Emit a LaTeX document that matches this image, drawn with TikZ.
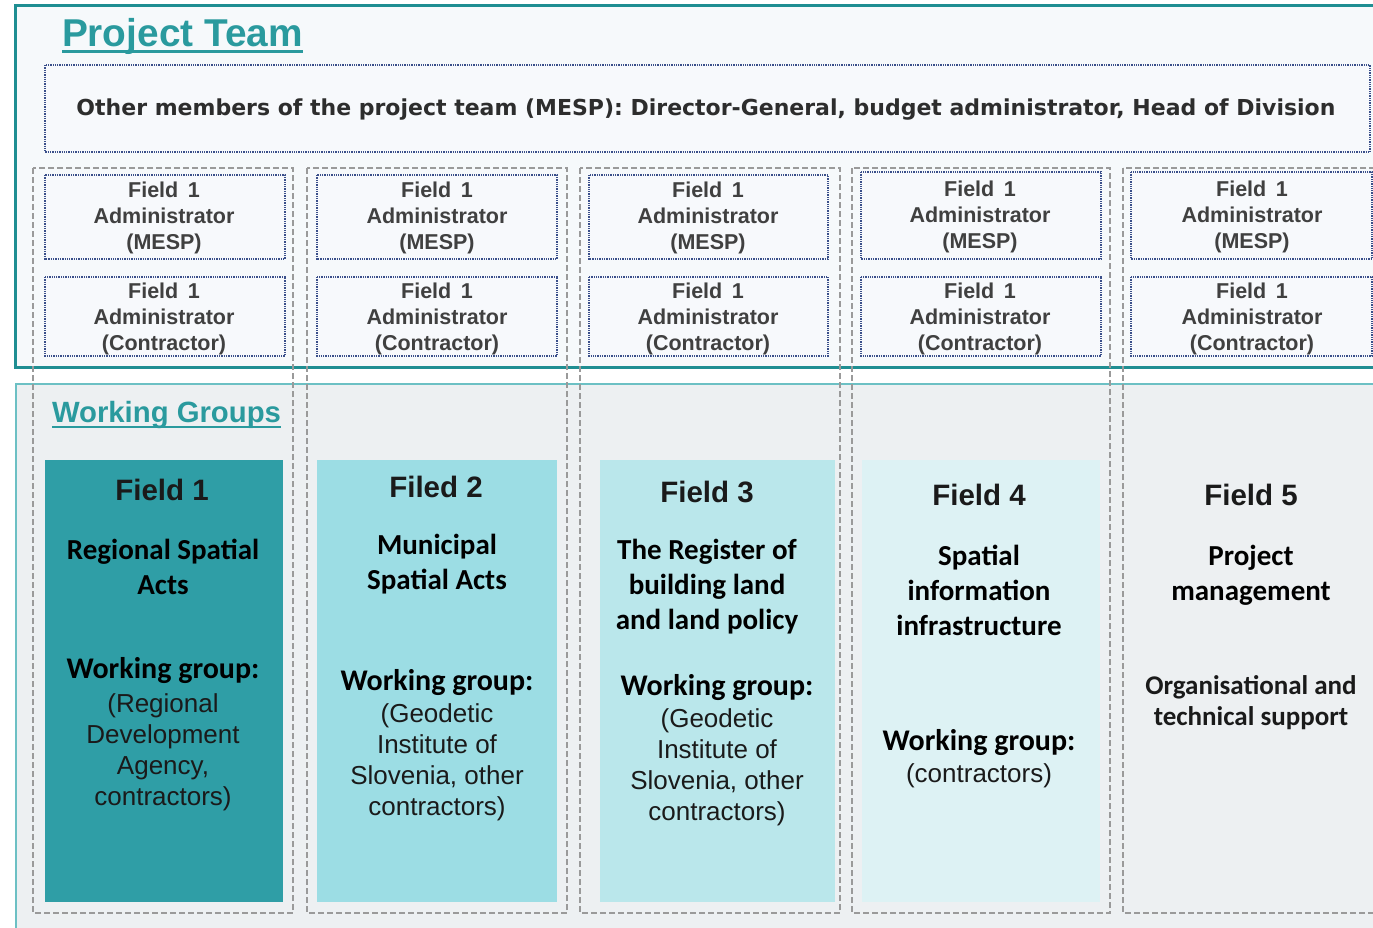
\documentclass[tikz,border=0pt]{standalone}
\usepackage{fontspec}
\setmainfont{Liberation Sans}
\newfontfamily\calfont{Carlito}
\newfontfamily\memfont{DejaVu Sans}
\definecolor{teal1}{HTML}{1F8E92}
\definecolor{teal2}{HTML}{6CC0C4}
\definecolor{titleteal}{HTML}{2A9A9E}
\definecolor{ptfill}{HTML}{F6F9FB}
\definecolor{wgfill}{HTML}{EDF0F2}
\definecolor{adminblue}{HTML}{3A4F8A}
\definecolor{adminfill}{HTML}{F7F9FC}
\definecolor{colgray}{HTML}{9A9A9A}
\definecolor{admintxt}{HTML}{404040}
\definecolor{txt}{HTML}{1A1A1A}
\definecolor{fone}{HTML}{2F9EA6}
\definecolor{ftwo}{HTML}{9CDDE4}
\definecolor{fthree}{HTML}{BAE7EB}
\definecolor{ffour}{HTML}{DDF2F4}
\begin{document}
\begin{tikzpicture}[x=1pt,y=-1pt,
  every node/.style={inner sep=0pt, outer sep=0pt},
  admin/.style={draw=adminblue, densely dotted, line width=1.3pt, fill=adminfill},
  colbox/.style={draw=colgray, dash pattern=on 6pt off 3pt, line width=1.6pt},
  ftitle/.style={font=\fontsize{29.5}{34}\selectfont\bfseries, text=txt, anchor=base},
  fsub/.style={font=\calfont\fontsize{29}{35}\selectfont\bfseries, align=center, anchor=base, text=black},
  fwg/.style={font=\calfont\fontsize{30}{34}\selectfont\bfseries, anchor=base, text=black},
  fbody/.style={font=\fontsize{26}{31}\selectfont, align=center, anchor=base, text=txt},
  atext/.style={font=\fontsize{21.5}{26}\selectfont\bfseries, align=center, anchor=base, text=admintxt},
  sectitle/.style={text=titleteal, anchor=base west},
]
\useasboundingbox (0,0) rectangle (1373,927);
\fill[white] (0,0) rectangle (1373,927);
\begin{scope}
\clip (0,0) rectangle (1373,927);
\draw[draw=teal1, line width=3pt, fill=ptfill] (15,5) rectangle (1395,367);
\draw[draw=teal2, line width=2pt, fill=wgfill] (16,384) rectangle (1395,945);
% field fills
\fill[fone] (45,460) rectangle (283,902);
\fill[ftwo] (317,460) rectangle (557,902);
\fill[fthree] (600,460) rectangle (835,902);
\fill[ffour] (862,460) rectangle (1100,902);
% column dashed boxes
\draw[colbox] (33,168) rectangle (293,913);
\draw[colbox] (307,168) rectangle (567,913);
\draw[colbox] (580,168) rectangle (840,913);
\draw[colbox] (852,168) rectangle (1110,913);
\draw[colbox] (1123,168) rectangle (1395,913);
% members box
\draw[admin] (45,65) rectangle (1370,152);
% admin boxes
\draw[admin] (45,175) rectangle (285,259);
\draw[admin] (45,277) rectangle (285,356);
\draw[admin] (317,175) rectangle (557,259);
\draw[admin] (317,277) rectangle (557,356);
\draw[admin] (589,175) rectangle (828,259);
\draw[admin] (589,277) rectangle (828,356);
\draw[admin] (861,172) rectangle (1101,259);
\draw[admin] (861,277) rectangle (1101,356);
\draw[admin] (1131,172) rectangle (1372,259);
\draw[admin] (1131,277) rectangle (1372,356);
\end{scope}

% titles
\node[sectitle, font=\fontsize{38.8}{42}\selectfont\bfseries] (pt) at (62,46) {Project Team};
\draw[titleteal, line width=3pt] ([yshift=-5]pt.base west) -- ([yshift=-5]pt.base east);
\node[sectitle, font=\fontsize{29.3}{32}\selectfont\bfseries] (wg) at (52,422) {Working Groups};
\draw[titleteal, line width=2.6pt] ([yshift=-5]wg.base west) -- ([yshift=-5]wg.base east);

\node[font=\memfont\fontsize{22}{26}\selectfont\bfseries, text=admintxt!70!black, anchor=base] (mem) at (706,115)
  {Other members of the project team (MESP): Director-General, budget administrator, Head of Division};

% admin texts (base = last line)
\node[atext] (a1m) at (164,249) {Field\, 1\\Administrator\\(MESP)};
\node[atext] (a1c) at (164,350) {Field\, 1\\Administrator\\(Contractor)};
\node[atext] (a2m) at (437,249) {Field\, 1\\Administrator\\(MESP)};
\node[atext] (a2c) at (437,350) {Field\, 1\\Administrator\\(Contractor)};
\node[atext] (a3m) at (708,249) {Field\, 1\\Administrator\\(MESP)};
\node[atext] (a3c) at (708,350) {Field\, 1\\Administrator\\(Contractor)};
\node[atext] (a4m) at (980,248) {Field\, 1\\Administrator\\(MESP)};
\node[atext] (a4c) at (980,350) {Field\, 1\\Administrator\\(Contractor)};
\node[atext] (a5m) at (1252,248) {Field\, 1\\Administrator\\(MESP)};
\node[atext] (a5c) at (1252,350) {Field\, 1\\Administrator\\(Contractor)};

% field 1
\node[ftitle] (t1) at (162,500) {Field 1};
\node[fsub] (s1) at (163,594) {Regional Spatial\\Acts};
\node[fwg] (w1) at (163,678) {Working group:};
\node[fbody] (b1) at (163,805) {(Regional\\Development\\Agency,\\contractors)};
% field 2
\node[ftitle] (t2) at (436,497) {Filed 2};
\node[fsub] (s2) at (437,589) {Municipal\\Spatial Acts};
\node[fwg] (w2) at (437,690) {Working group:};
\node[fbody] (b2) at (437,815) {(Geodetic\\Institute of\\Slovenia, other\\contractors)};
% field 3
\node[ftitle] (t3) at (707,502) {Field 3};
\node[fsub] (s3) at (707,629) {The Register of\\building land\\and land policy};
\node[fwg] (w3) at (717,695) {Working group:};
\node[fbody] (b3) at (717,820) {(Geodetic\\Institute of\\Slovenia, other\\contractors)};
% field 4
\node[ftitle] (t4) at (979,505) {Field 4};
\node[fsub] (s4) at (979,635) {Spatial\\information\\infrastructure};
\node[fwg] (w4) at (979,750) {Working group:};
\node[fbody] (b4) at (979,782) {(contractors)};
% field 5
\node[ftitle] (t5) at (1251,505) {Field 5};
\node[fsub] (s5) at (1251,600) {Project\\management};
\node[font=\calfont\fontsize{27}{31}\selectfont\bfseries, align=center, anchor=base, text=txt] (o5) at (1251,725) {Organisational and\\technical support};
\end{tikzpicture}
\end{document}
